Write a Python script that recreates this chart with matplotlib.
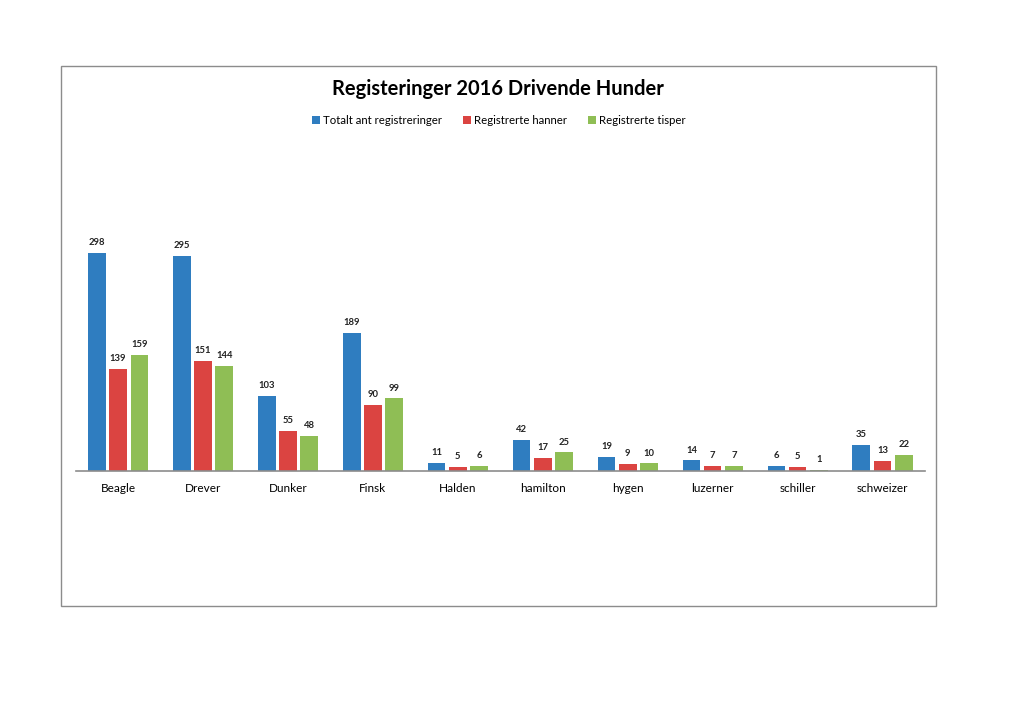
import matplotlib
matplotlib.use("Agg")
import matplotlib.pyplot as plt
import matplotlib.patches as mpatches
import numpy as np

categories = ["Beagle", "Drever", "Dunker", "Finsk", "Halden", "hamilton",
              "hygen", "luzerner", "schiller", "schweizer"]
series_names = ["Totalt ant registreringer", "Registrerte hanner", "Registrerte tisper"]
totalt = [298, 295, 103, 189, 11, 42, 19, 14, 6, 35]
hanner = [139, 151, 55, 90, 5, 17, 9, 7, 5, 13]
tisper = [159, 144, 48, 99, 6, 25, 10, 7, 1, 22]
colors = ["#2F7DC0", "#DB4441", "#8FBE55"]

plt.rcParams['font.family'] = ['Lato', 'DejaVu Sans']

fig = plt.figure(figsize=(10.24, 7.24), dpi=100)
fig.patch.set_facecolor("white")

# outer chart border
fig.patches.append(mpatches.Rectangle((0.0596, 0.1635), 0.8542, 0.7453,
                                      transform=fig.transFigure, fill=False,
                                      edgecolor="#8C8C8C", linewidth=1.0))

ax = fig.add_axes([0.0739, 0.3499, 0.8294, 0.3526])
x = np.arange(len(categories))
width = 0.208
offsets = [-0.25, 0.0, 0.25]
handles = []
for vals, off, col, name in zip([totalt, hanner, tisper], offsets, colors, series_names):
    bars = ax.bar(x + off, vals, width=width, color=col, label=name)
    handles.append(bars)
    for xi, v in zip(x + off, vals):
        ax.text(xi, v + 8, str(v), ha="center", va="bottom", fontsize=6.8,
                fontweight="bold", color="#222222")

ax.set_xlim(-0.5, len(categories) - 0.5)
ax.set_ylim(0, 350)
ax.set_xticks(x)
ax.set_xticklabels(categories, fontsize=8.5)
ax.tick_params(axis="x", length=0, pad=9)
ax.set_yticks([])
for s in ["top", "right", "left"]:
    ax.spines[s].set_visible(False)
ax.spines["bottom"].set_color("#8C8C8C")
ax.spines["bottom"].set_linewidth(1.2)

fig.text(0.486, 0.877, "Registeringer 2016 Drivende Hunder", ha="center", va="center",
         fontsize=14.5, fontweight="bold")

fig.legend(handles=handles, labels=series_names, loc="center", bbox_to_anchor=(0.487, 0.833),
           ncol=3, frameon=False, fontsize=8.2, handlelength=0.7, handleheight=0.7,
           handletextpad=0.3, columnspacing=1.8)

fig.savefig("out.png", dpi=100, facecolor="white")
